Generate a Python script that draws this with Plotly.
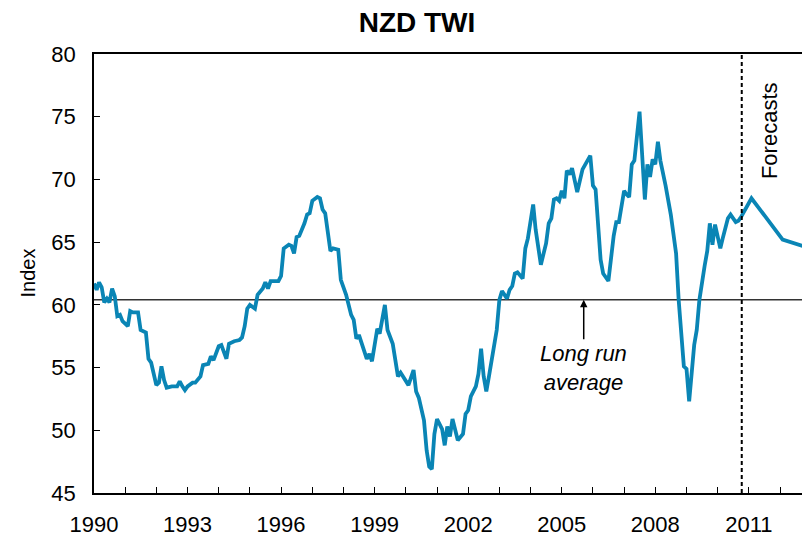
import plotly.graph_objects as go

# Historical monthly NZD TWI
hist_dates = [
    "1990-01", "1990-02", "1990-03", "1990-04", "1990-05", "1990-06", "1990-07", "1990-08",
    "1990-09", "1990-10", "1990-11", "1990-12", "1991-02", "1991-03", "1991-04", "1991-06",
    "1991-07", "1991-09", "1991-10", "1991-11", "1992-01", "1992-02", "1992-03", "1992-04",
    "1992-05", "1992-07", "1992-09", "1992-10", "1992-11", "1992-12", "1993-01", "1993-03",
    "1993-04", "1993-06", "1993-07", "1993-09", "1993-10", "1993-11", "1994-01", "1994-02",
    "1994-04", "1994-05", "1994-07", "1994-09", "1994-10", "1994-11", "1994-12", "1995-01",
    "1995-03", "1995-04", "1995-06", "1995-07", "1995-08", "1995-09", "1995-12", "1996-01",
    "1996-02", "1996-04", "1996-05", "1996-06", "1996-07", "1996-08", "1996-10", "1996-11",
    "1996-12", "1997-01", "1997-03", "1997-04", "1997-05", "1997-06", "1997-08", "1997-09",
    "1997-11", "1997-12", "1998-02", "1998-04", "1998-05", "1998-06", "1998-07", "1998-08",
    "1998-10", "1998-11", "1998-12", "1999-02", "1999-03", "1999-05", "1999-06", "1999-08",
    "1999-10", "1999-11", "1999-12", "2000-02", "2000-04", "2000-05", "2000-06", "2000-07",
    "2000-08", "2000-09", "2000-10", "2000-11", "2000-12", "2001-01", "2001-03", "2001-04",
    "2001-05", "2001-06", "2001-07", "2001-09", "2001-11", "2001-12", "2002-01", "2002-02",
    "2002-04", "2002-05", "2002-06", "2002-07", "2002-08", "2002-09", "2002-11", "2002-12",
    "2003-01", "2003-02", "2003-04", "2003-05", "2003-06", "2003-07", "2003-08", "2003-10",
    "2003-11", "2003-12", "2004-02", "2004-03", "2004-05", "2004-07", "2004-08", "2004-09",
    "2004-10", "2004-11", "2004-12", "2005-01", "2005-02", "2005-03", "2005-04", "2005-05",
    "2005-07", "2005-08", "2005-09", "2005-12", "2006-01", "2006-02", "2006-04", "2006-05",
    "2006-07", "2006-09", "2006-10", "2006-11", "2007-01", "2007-02", "2007-03", "2007-04",
    "2007-05", "2007-07", "2007-08", "2007-09", "2007-10", "2007-11", "2007-12", "2008-01",
    "2008-02", "2008-03", "2008-05", "2008-07", "2008-09", "2008-10", "2008-12", "2009-01",
    "2009-02", "2009-03", "2009-04", "2009-05", "2009-06", "2009-08", "2009-09", "2009-10",
    "2009-11", "2009-12", "2010-02", "2010-03", "2010-05", "2010-06", "2010-08", "2010-09",
    "2010-10",
]
hist_values = [
    61.7, 61.2, 61.8, 61.4, 60.2, 60.5, 60.2, 61.3,
    60.7, 59.1, 59.2, 58.7, 58.3, 59.5, 59.4, 59.4,
    58.0, 57.8, 55.7, 55.4, 53.6, 53.8, 55.1, 54.0,
    53.4, 53.5, 53.5, 53.9, 53.5, 53.2, 53.5, 53.8,
    53.8, 54.3, 55.2, 55.3, 55.9, 55.6, 56.7, 56.8,
    55.7, 56.9, 57.1, 57.2, 57.4, 58.3, 59.7, 60.0,
    59.7, 60.8, 61.3, 61.8, 61.3, 61.9, 61.9, 62.3,
    64.5, 64.8, 64.7, 64.1, 65.4, 65.5, 66.5, 67.2,
    67.3, 68.3, 68.6, 68.5, 67.6, 67.3, 64.3, 64.5,
    64.4, 62.0, 60.8, 59.2, 58.8, 57.3, 57.6, 56.9,
    55.7, 56.1, 55.5, 58.1, 57.7, 60.0, 58.0, 56.9,
    54.3, 54.6, 54.3, 53.6, 54.8, 53.1, 52.6, 51.8,
    50.8, 48.4, 47.1, 46.9, 49.7, 50.9, 50.1, 48.8,
    50.3, 49.5, 50.9, 49.2, 49.7, 51.3, 51.6, 52.7,
    53.5, 54.5, 56.5, 54.3, 53.1, 54.3, 56.7, 58.0,
    60.4, 61.1, 60.5, 61.2, 61.5, 62.5, 62.6, 62.1,
    64.5, 65.3, 68.0, 66.0, 63.2, 64.9, 66.5, 66.9,
    68.4, 68.5, 68.3, 69.1, 68.5, 70.7, 70.4, 70.9,
    69.0, 70.0, 70.8, 71.9, 69.5, 69.2, 63.6, 62.5,
    61.9, 65.5, 66.6, 66.6, 69.1, 68.8, 68.6, 71.2,
    71.5, 75.4, 71.6, 68.4, 71.2, 70.2, 71.6, 71.2,
    73.0, 71.5, 69.5, 67.2, 64.1, 60.4, 55.1, 54.9,
    52.3, 54.5, 56.8, 58.0, 60.4, 63.1, 64.3, 66.5,
    64.8, 66.4, 64.5, 65.3, 66.9, 67.2, 66.6, 66.7,
    67.0,
]

# Forecast path
fc_dates = ["2010-10", "2011-02", "2012-02", "2012-11"]
fc_values = [67.0, 68.5, 65.2, 64.6]

long_run_avg = 60.4
forecast_start = "2010-10-10"

y_ticks = [45, 50, 55, 60, 65, 70, 75, 80]

LINE = "#0A85B5"
FONT = "Liberation Sans, Arial, sans-serif"

# The page body has an 8px default margin, so the figure is sized to fit the window.
W, H = 802, 530
ML, MR, MT, MB = 86, 2, 46, 45

fig = go.Figure()
fig.add_trace(go.Scatter(x=hist_dates, y=hist_values, mode="lines",
                         line=dict(color=LINE, width=3.8), showlegend=False))
fig.add_trace(go.Scatter(x=fc_dates, y=fc_values, mode="lines",
                         line=dict(color=LINE, width=3.8), showlegend=False))

fig.add_shape(type="line", xref="paper", x0=0, x1=1, yref="y",
              y0=long_run_avg, y1=long_run_avg,
              line=dict(color="#333333", width=1.5), layer="below")
fig.add_shape(type="line", xref="x", x0=forecast_start, x1=forecast_start,
              yref="paper", y0=0, y1=1,
              line=dict(color="black", width=2, dash="4px,3px"))

fig.add_annotation(x="2005-09-15", y=long_run_avg, xref="x", yref="y",
                   text="<i>Long run<br>average</i>", showarrow=True,
                   ax=0, ay=68, arrowhead=2, arrowsize=1, arrowwidth=1.5,
                   arrowcolor="black", font=dict(size=22, color="black", family=FONT))
fig.add_annotation(x="2011-09-01", y=73.9, xref="x", yref="y",
                   text="Forecasts", showarrow=False, textangle=-90,
                   font=dict(size=22, color="black", family=FONT))
fig.add_annotation(x=(19 - ML) / (W - ML - MR), xref="paper", xanchor="center",
                   y=62.5, yref="y",
                   text="Index", showarrow=False, textangle=-90,
                   font=dict(size=20, color="black", family=FONT))

fig.update_layout(
    width=W, height=H,
    margin=dict(l=ML, r=MR, t=MT, b=MB),
    paper_bgcolor="white", plot_bgcolor="white",
    font=dict(family=FONT, color="black", size=22),
    title=dict(text="<b>NZD TWI</b>", x=409 / W, xanchor="center", y=1 - 14 / H,
               yanchor="middle", font=dict(size=28, family=FONT, color="black")),
)

fig.update_xaxes(
    type="date", range=["1990-01-01", "2012-11-24"], automargin=False,
    showline=True, linecolor="black", linewidth=1.5, mirror=True,
    ticks="inside", ticklen=6, tickcolor="black", tickwidth=1.2,
    tick0="1990-01-01", dtick="M36", tickformat="%Y",
    minor=dict(ticks="inside", dtick="M12", ticklen=6, tickcolor="black", tickwidth=1.2),
    showgrid=False, zeroline=False, ticklabelstandoff=11,
    tickfont=dict(size=22),
)
fig.update_yaxes(
    range=[45, 80], tickvals=y_ticks, automargin=False,
    showline=True, linecolor="black", linewidth=1.5, mirror=True,
    ticks="inside", ticklen=6, tickcolor="black", tickwidth=1.2,
    showgrid=False, zeroline=False, ticklabelstandoff=12,
    tickfont=dict(size=22),
)

fig.write_html("out.html")
